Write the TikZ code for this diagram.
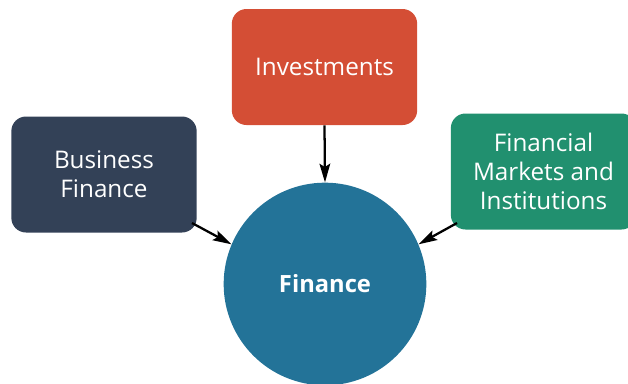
\documentclass[tikz,border=0pt]{standalone}
\usepackage{fontspec}
\setmainfont{Open Sans}
\usetikzlibrary{arrows.meta}
\definecolor{invc}{HTML}{D44E35}
\definecolor{busc}{HTML}{334157}
\definecolor{finc}{HTML}{21906F}
\definecolor{circc}{HTML}{237398}
\tikzset{
  topic/.style={rounded corners=11pt, minimum width=139pt, minimum height=87pt, text=white, font=\fontsize{18.2}{21.7}\selectfont, align=center, inner sep=0pt},
  hub/.style={circle, minimum size=152pt, text=white, font=\fontsize{17.8}{20}\selectfont\bfseries, inner sep=0pt},
  link/.style={-{Stealth[length=14pt,width=8pt,inset=2.5pt]}, line width=1.7pt, black}
}
\begin{document}
\begin{tikzpicture}[x=0.75pt,y=-0.75pt]
\useasboundingbox (0,0) rectangle (628,383);
\clip (0,0) rectangle (628,383);
\node[topic, fill=invc] (inv) at (324.5,67) {Investments};
\node[topic, fill=busc] (bus) at (104,174.5) {Business\\Finance};
\node[topic, fill=finc] (fmi) at (543.5,171.5) {Financial\\Markets and\\Institutions};
\node[hub, fill=circc] (fin) at (325,284) {Finance};
\coordinate (b1) at (192,223);
\coordinate (f1) at (457,223);
\draw[link] (inv.south) -- (fin.north);
\draw[link] (b1) -- (fin.157);
\draw[link] (f1) -- (fin.23);
\end{tikzpicture}
\end{document}
